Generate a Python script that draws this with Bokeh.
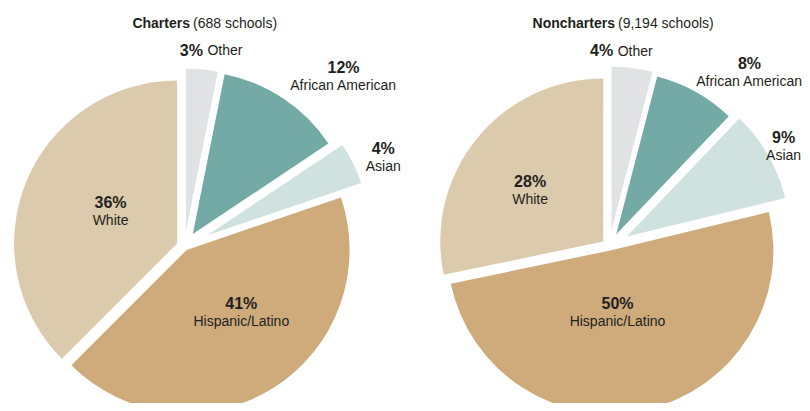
import math
from bokeh.plotting import figure
from bokeh.models import Range1d, ColumnDataSource
from bokeh.embed import file_html
from bokeh.resources import INLINE
from bokeh.core.properties import value

# ---------------- data ----------------
categories = ["Other", "African American", "Asian", "Hispanic/Latino", "White"]
charters_pct = [3, 12, 4, 41, 36]
noncharters_pct = [4, 8, 9, 50, 28]
group_names = ["Charters", "Noncharters"]
group_counts = ["(688 schools)", "(9,194 schools)"]

# ---------------- style ----------------
COLORS = ["#e1e2e4", "#74aaa5", "#d0e2e0", "#cfab7c", "#dccaac"]
TEXT_COLOR = "#231f20"
FONT = "Liberation Sans"
W, H = 802, 403
R = 163
CENTERS = [(184, 246), (609, 246)]          # pie centres, picture px
EXPLODE = [[15, 15, 25, 4, 8], [17, 14, 20, 4, 8]]
# label placement relative to pie centre: (angle nudge deg, distance px)
LABEL_POLAR = [
    [(2.2, 198), (9.3, 233), (2.0, 218), (-9.2, 86.5), (3.1, 82)],
    [(-3.7, 196), (9.6, 224), (0.0, 201), (5.7, 65.5), (-3.6, 97.5)],
]
TITLE_Y = 22
TITLE_SPLIT_DX = 7
PCT_SIZE = "16px"
NAME_SIZE = "14px"
TITLE_SIZE = "14px"


def Y(py):
    return H - py


p = figure(width=W, height=H, x_range=Range1d(0, W), y_range=Range1d(0, H),
           output_backend="svg", toolbar_location=None, min_border=0,
           x_axis_type=None, y_axis_type=None)
p.grid.visible = False
p.outline_line_color = None
p.background_fill_color = "white"
p.border_fill_color = "white"

series = [charters_pct, noncharters_pct]
for gi, vals in enumerate(series):
    bx, by = CENTERS[gi]
    total = float(sum(vals))
    cum = 0.0
    xs, ys, sa, ea = [], [], [], []
    pct_x, pct_y, pct_t = [], [], []
    name_x, name_y, name_t = [], [], []
    for si, v in enumerate(vals):
        t1 = cum / total * 2 * math.pi
        cum += v
        t2 = cum / total * 2 * math.pi
        tm = (t1 + t2) / 2
        d = EXPLODE[gi][si]
        cx = bx + d * math.sin(tm)
        cy = by - d * math.cos(tm)
        xs.append(cx)
        ys.append(Y(cy))
        sa.append(math.pi / 2 - t2)
        ea.append(math.pi / 2 - t1)
        nud, dist = LABEL_POLAR[gi][si]
        ta = tm + math.radians(nud)
        lx = bx + dist * math.sin(ta)
        ly = by - dist * math.cos(ta)
        if si == 0:
            # single line: "3% Other"
            p.text(x=[lx - 8.5], y=[Y(ly)], text=[f"{v}%"], text_font=value(FONT),
                   text_font_size=value(PCT_SIZE), text_font_style="bold",
                   text_align="right", text_baseline="middle", text_color=TEXT_COLOR)
            p.text(x=[lx - 4], y=[Y(ly)], text=[categories[si]], text_font=value(FONT),
                   text_font_size=value(NAME_SIZE), text_align="left",
                   text_baseline="middle", text_color=TEXT_COLOR)
        else:
            pct_x.append(lx); pct_y.append(Y(ly - 8.5)); pct_t.append(f"{v}%")
            name_x.append(lx); name_y.append(Y(ly + 9)); name_t.append(categories[si])
    src = ColumnDataSource(dict(x=xs, y=ys, sa=sa, ea=ea, c=COLORS))
    p.wedge(x="x", y="y", radius=R, start_angle="sa", end_angle="ea",
            direction="anticlock", fill_color="c", line_color=None, source=src)
    p.text(x=pct_x, y=pct_y, text=pct_t, text_font=value(FONT),
           text_font_size=value(PCT_SIZE), text_font_style="bold",
           text_align="center", text_baseline="middle", text_color=TEXT_COLOR)
    p.text(x=name_x, y=name_y, text=name_t, text_font=value(FONT),
           text_font_size=value(NAME_SIZE), text_align="center",
           text_baseline="middle", text_color=TEXT_COLOR)
    # title
    sx = bx + TITLE_SPLIT_DX
    p.text(x=[sx - 1.5], y=[Y(TITLE_Y)], text=[group_names[gi]], text_font=value(FONT),
           text_font_size=value(TITLE_SIZE), text_font_style="bold", text_align="right",
           text_baseline="middle", text_color=TEXT_COLOR)
    p.text(x=[sx + 1.5], y=[Y(TITLE_Y)], text=[group_counts[gi]], text_font=value(FONT),
           text_font_size=value(TITLE_SIZE), text_align="left",
           text_baseline="middle", text_color=TEXT_COLOR)

open("out.html", "w").write(file_html(p, INLINE))
